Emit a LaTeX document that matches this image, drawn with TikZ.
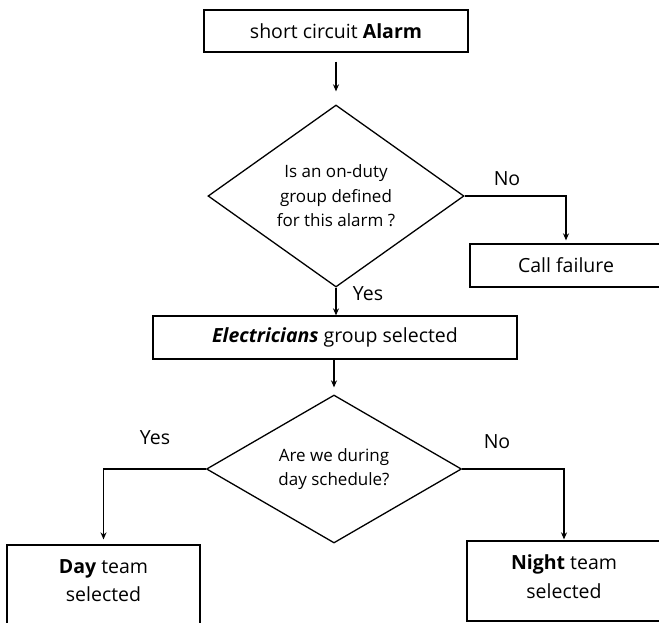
\documentclass[tikz,border=0pt]{standalone}
\usepackage{fontspec}
\setmainfont{Open Sans}
\usepackage{tikz}
\usetikzlibrary{arrows.meta,shapes.geometric}

\tikzset{
  box/.style={draw, line width=1.3pt, rectangle, minimum height=43pt, inner sep=2pt, align=center, font=\fontsize{19.5}{27}\selectfont},
  question/.style={draw, line width=1.3pt, diamond, aspect=1.4, inner sep=1pt, align=center, font=\fontsize{17}{24.5}\selectfont},
  flow/.style={line width=1.3pt, -{Stealth[length=7pt,width=6pt]}},
  answer/.style={font=\fontsize{19.5}{22}\selectfont}
}

\begin{document}
\begin{tikzpicture}[x=1pt,y=-1pt]
    \useasboundingbox (0,0) rectangle (659,622);
    \clip (0,0) rectangle (659,622);

    \node (alarm) at (336,31) [box, minimum width=264pt, minimum height=42pt] {short circuit \textbf{Alarm}};
    \node (q1) at (336,196) [question, minimum width=256pt, minimum height=182pt] {Is an on-duty\\group defined\\for this alarm ?};
    \node (fail) at (566,265.5) [box, minimum width=192pt] {Call failure};
    \node (elec) at (335,337.5) [box, minimum width=364pt] {\textbf{\textit{Electricians}} group selected};
    \node (q2) at (334,469) [question, minimum width=255pt, minimum height=148pt] {Are we during\\day schedule?};
    \node (day) at (103.5,585) [box, minimum width=193pt, minimum height=80pt, text depth=9pt, font=\fontsize{19.5}{28.5}\selectfont] {\textbf{Day} team\\selected};
    \node (night) at (564,581) [box, minimum width=194pt, minimum height=80pt, text depth=9pt, font=\fontsize{19.5}{28.5}\selectfont] {\textbf{Night} team\\selected};

    \node (no1) at (507,179) [answer] {No};
    \node (yes1) at (368,294) [answer] {Yes};
    \node (yes2) at (155,438) [answer] {Yes};
    \node (no2) at (497,442) [answer] {No};

    \draw [flow, shorten <=9pt, shorten >=13pt] (alarm.south) -- (q1.north);
    \draw [flow, shorten >=3pt] (q1.east) -| (fail.north);
    \draw [flow] (q1.south) -- (q1.south |- elec.north);
    \draw [flow, shorten >=7pt] (q2.north |- elec.south) -- (q2.north);
    \draw [flow, shorten >=5pt] (q2.west) -| (day.north);
    \draw [flow, shorten >=1pt] (q2.east) -| (night.north);
\end{tikzpicture}
\end{document}
